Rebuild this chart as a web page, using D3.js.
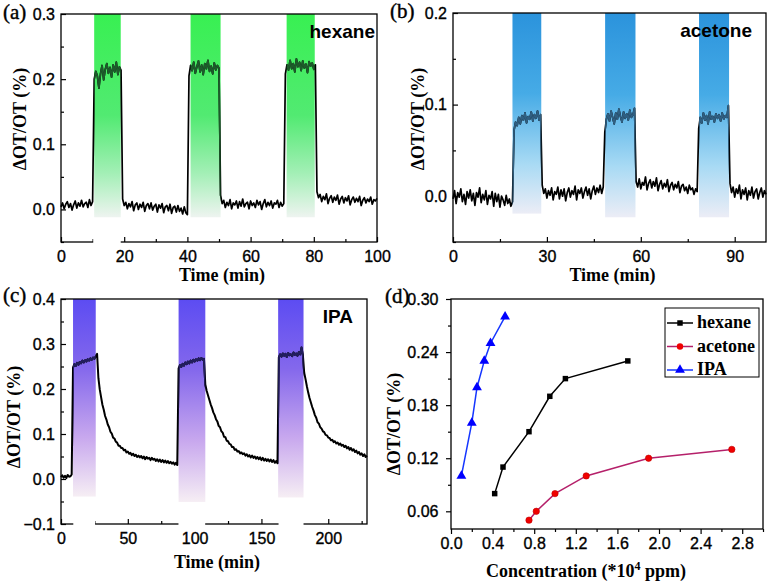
<!DOCTYPE html>
<html><head><meta charset="utf-8">
<script src="https://cdn.jsdelivr.net/npm/d3@7"></script>
<style>
body{margin:0;background:#fff}
svg{display:block}
.tick text{font-family:"Liberation Sans",Arial,sans-serif;font-size:16px;fill:#000;stroke:#000;stroke-width:0.35px}
.tick line{stroke:#000;stroke-width:1.2}
</style></head><body>
<svg id="chart" width="770" height="583"></svg>
<script>
// ---------- DATA ----------
// (a) hexane response, one sample every 0.5 min from t = 0
const hexaneStep = 0.5;
const hexaneSignal = [
 .004,.010,.001,.008,.012,.003,.009,-.001,.007,.013,.002,.010,.005,.014,.004,.009,.011,.003,.015,.006,.012,
 .200,.212,.205,.186,.208,.221,.199,.215,.224,.209,.218,.203,.222,.211,.226,.207,.219,.214,
 .016,.006,.011,.001,.009,.004,.012,-.002,.007,.010,.000,.008,.003,.011,-.003,.006,.009,.001,.010,-.001,.005,.008,-.004,.007,.002,.009,-.005,.004,.006,-.002,.008,-.006,.003,.005,-.004,.006,-.003,.002,-.007,.004,-.005,-.008,
 .205,.221,.213,.226,.209,.219,.228,.211,.222,.207,.224,.216,.229,.212,.220,.208,.225,.214,.221,.217,
 .022,.009,.014,.003,.011,.006,.015,.001,.010,.007,.013,.002,.012,.005,.016,.004,.009,.011,.001,.013,.006,.010,.003,.014,.007,.012,.000,.009,.015,.004,.011,.006,.013,.002,.010,.008,.014,.003,.011,.005,.009,
 .208,.222,.214,.229,.216,.224,.211,.231,.219,.226,.213,.228,.217,.223,.210,.227,.220,.225,.215,.222,
 .027,.018,.023,.012,.020,.015,.024,.009,.017,.021,.011,.019,.014,.022,.008,.016,.020,.010,.018,.013,.021,.007,.015,.019,.011,.017,.012,.020,.006,.014,.018,.010,.016,.012,.019,.008,.015,.013,.017
];
const hexaneBands = [[10.5, 18.9], [41.0, 50.5], [71.4, 80.3]];
const hexaneBandLows = [-0.012, -0.012, -0.012];
const hexaneAxisGaps = [[10.2, 18.9]];

// (b) acetone response, one sample every 0.5 min from t = 0
const acetoneStep = 0.5;
const acetoneSignal = [
 -.003,.006,-.008,.004,-.001,.008,-.006,.002,-.009,.005,-.002,.007,-.005,.003,-.010,.004,-.001,.009,-.007,.002,-.004,.006,-.009,.001,-.003,.005,-.011,.003,-.006,.002,-.012,.000,-.004,-.010,.001,-.008,-.003,-.011,-.006,
 .072,.081,.077,.086,.079,.088,.083,.091,.080,.087,.084,.092,.082,.089,.085,.093,.083,.089,
 .012,.003,.008,-.002,.006,.001,.009,-.004,.005,.002,.010,-.003,.007,.000,.008,-.005,.004,.009,-.001,.006,.002,.011,-.004,.007,.003,.009,-.002,.005,.010,.001,.008,-.003,.006,.011,.002,.009,.004,.012,.003,.010,
 .070,.084,.090,.082,.093,.086,.079,.091,.084,.095,.087,.081,.092,.085,.090,.083,.094,.086,.089,.096,
 .016,.010,.019,.008,.015,.012,.021,.007,.014,.018,.009,.016,.011,.020,.006,.013,.017,.008,.014,.010,.018,.005,.012,.015,.007,.013,.009,.016,.004,.011,.013,.006,.010,.003,.012,.007,.009,.002,.008,.005,
 .074,.086,.080,.091,.083,.088,.079,.092,.084,.087,.081,.090,.085,.089,.082,.091,.084,.088,.086,.099,
 .014,.004,.010,-.001,.008,.003,.012,-.003,.007,.002,.009,-.004,.006,.001,.010,-.002,.005,.008,-.003,.004,.009,-.001,.006,.002
];
const acetoneBands = [[19.0, 28.2], [48.6, 58.3], [78.6, 88.2]];
const acetoneBandLows = [-0.019, -0.023, -0.023];
const acetoneAxisGaps = [];

// (c) IPA response, one sample every 1 min from t = 0
const ipaStep = 1;
const ipaSignal = [
 .004,.008,.003,.007,.002,.009,.005,.006,.010,
 .248,.255,.251,.258,.254,.260,.257,.263,.259,.264,.261,.266,.263,.268,.265,.270,.267,.272,
 .278,.224,.199,.182,.165,.154,.140,.132,.121,.115,.105,.101,.092,.090,.083,.081,.074,.074,.069,.069,
 .064,.065,.059,.061,.056,.058,.053,.056,.051,.054,.049,.052,.048,.051,.046,.050,.044,.049,.045,.047,
 .042,.047,.043,.045,.040,.044,.039,.043,.038,.042,.037,.041,.036,.040,.035,.038,.034,.037,.032,.036,.031,
 .246,.253,.249,.256,.252,.259,.255,.261,.257,.263,.259,.265,.261,.266,.263,.268,.264,.269,.265,.267,
 .210,.196,.186,.176,.166,.158,.148,.142,.133,.128,.118,.115,.106,.103,.094,.093,.085,.084,.078,.077,
 .071,.071,.065,.066,.061,.062,.057,.059,.055,.057,.052,.055,.050,.053,.048,.052,.047,.050,.045,.049,
 .044,.048,.042,.047,.041,.045,.040,.044,.039,.043,.038,.042,.036,.040,.035,
 .270,.277,.272,.279,.274,.278,.271,.280,.275,.277,.273,.281,.276,.279,.274,.282,.277,.292,.276,
 .236,.222,.206,.192,.180,.170,.160,.152,.142,.136,.126,.123,.115,.112,.106,.104,.098,.097,.092,.091,
 .086,.087,.082,.084,.079,.081,.076,.079,.074,.076,.071,.074,.068,.071,.065,.069,.063,.066,.060,.063,
 .057,.060,.054,.057,.051,.055,.049,.052
];
const ipaBands = [[9.0, 26.0], [88.0, 108.0], [162.5, 181.5]];
const ipaBandLows = [-0.039, -0.051, -0.041];
const ipaAxisGaps = [[9.2, 25.5], [87.9, 107.9], [162.8, 181.5]];

// (d) response vs concentration (*10^4 ppm)
const concHexane  = [0.42, 0.50, 0.75, 0.95, 1.10, 1.70];
const respHexane  = [0.080, 0.110, 0.150, 0.190, 0.210, 0.230];
const concAcetone = [0.75, 0.82, 1.00, 1.30, 1.90, 2.70];
const respAcetone = [0.050, 0.060, 0.080, 0.100, 0.120, 0.130];
const concIPA     = [0.10, 0.20, 0.25, 0.32, 0.38, 0.52];
const respIPA     = [0.100, 0.160, 0.200, 0.230, 0.250, 0.280];
const seriesNames = ["hexane", "acetone", "IPA"];

// tick values
const ticksA_x = [0, 20, 40, 60, 80, 100], minorA_x = [10, 30, 50, 70, 90];
const ticksA_y = [0, 0.1, 0.2, 0.3], minorA_y = [-0.05, 0.05, 0.15, 0.25];
const ticksB_x = [0, 30, 60, 90], minorB_x = [15, 45, 75];
const ticksB_y = [0, 0.1, 0.2], minorB_y = [-0.05, 0.05, 0.15];
const ticksC_x = [0, 50, 100, 150, 200], minorC_x = [25, 75, 125, 175, 225];
const ticksC_y = [-0.1, 0, 0.1, 0.2, 0.3, 0.4], minorC_y = [-0.05, 0.05, 0.15, 0.25, 0.35];
const ticksD_x = [0, 0.4, 0.8, 1.2, 1.6, 2.0, 2.4, 2.8], minorD_x = [0.2, 0.6, 1.0, 1.4, 1.8, 2.2, 2.6, 3.0];
const ticksD_y = [0.06, 0.12, 0.18, 0.24, 0.30], minorD_y = [0.09, 0.15, 0.21, 0.27];

// ---------- DRAWING ----------
const svg = d3.select("#chart");
const defs = svg.append("defs");
const SERIF = '"Liberation Serif","Times New Roman",serif';
const SANS = '"Liberation Sans",Arial,sans-serif';

function addGradient(id, stops) {
  const g = defs.append("linearGradient").attr("id", id)
    .attr("x1", 0).attr("y1", 0).attr("x2", 0).attr("y2", 1);
  stops.forEach(s => g.append("stop").attr("offset", s[0]).attr("stop-color", s[1]));
}

function axes(g, x, y, p, inward) {
  const s = inward ? -1 : 1;
  const bx = g.append("g").attr("transform", `translate(0,${p.bottom})`)
    .call(d3.axisBottom(x).tickValues(p.xTicks).tickSize(5 * s).tickSizeOuter(0)
      .tickPadding(inward ? 8.5 : 3.5).tickFormat(p.xFmt));
  bx.select(".domain").remove();
  const bxm = g.append("g").attr("transform", `translate(0,${p.bottom})`)
    .call(d3.axisBottom(x).tickValues(p.xMinor).tickSize(3 * s).tickSizeOuter(0).tickFormat(""));
  bxm.select(".domain").remove();
  const ly = g.append("g").attr("transform", `translate(${p.left},0)`)
    .call(d3.axisLeft(y).tickValues(p.yTicks).tickSize(5 * s).tickSizeOuter(0)
      .tickPadding(inward ? 6 : 7.5).tickFormat(p.yFmt));
  ly.select(".domain").remove();
  const lym = g.append("g").attr("transform", `translate(${p.left},0)`)
    .call(d3.axisLeft(y).tickValues(p.yMinor).tickSize(3 * s).tickSizeOuter(0).tickFormat(""));
  lym.select(".domain").remove();
}

function frame(g, p) {
  g.append("rect").attr("x", p.left).attr("y", p.top)
    .attr("width", p.right - p.left).attr("height", p.bottom - p.top)
    .attr("fill", "none").attr("stroke", "#000").attr("stroke-width", 1.3);
}

function titles(g, p) {
  g.append("text").attr("x", p.letterX).attr("y", p.letterY).text(p.letter)
    .attr("font-family", SERIF).attr("font-size", 21).attr("stroke", "#000").attr("stroke-width", 0.4);
  g.append("text").attr("transform", `translate(${p.yTitleX},${p.yTitleY}) rotate(-90)`)
    .attr("text-anchor", "middle").attr("font-family", SERIF).attr("font-weight", "bold")
    .attr("font-size", 18).text("ΔOT/OT (%)");
}

function drawTimePanel(p) {
  const x = d3.scaleLinear().domain(p.xDomain).range([p.left, p.right]);
  const y = d3.scaleLinear().domain(p.yDomain).range([p.bottom, p.top]);
  const g = svg.append("g");
  addGradient(p.id + "-grad", p.stops);
  const bandData = p.bands.map((b, i) => ({ t0: b[0], t1: b[1], lo: p.bandLows[i] }));
  g.selectAll("rect.band").data(bandData).join("rect").attr("class", "band")
    .attr("x", d => x(d.t0)).attr("width", d => x(d.t1) - x(d.t0))
    .attr("y", p.top).attr("height", d => y(d.lo) - p.top)
    .attr("fill", `url(#${p.id}-grad)`);
  const pts = p.signal.map((v, i) => [i * p.step, v]);
  const line = d3.line().x(d => x(d[0])).y(d => y(d[1]));
  g.append("path").attr("d", line(pts)).attr("fill", "none").attr("stroke", "#000")
    .attr("stroke-width", p.lw).attr("stroke-linejoin", "round");
  const clip = defs.append("clipPath").attr("id", p.id + "-clip");
  clip.selectAll("rect").data(bandData).join("rect")
    .attr("x", d => x(d.t0)).attr("width", d => x(d.t1) - x(d.t0))
    .attr("y", p.top).attr("height", p.bottom - p.top);
  g.append("path").attr("d", line(pts)).attr("fill", "none").attr("stroke", p.tint)
    .attr("stroke-width", p.lw).attr("stroke-linejoin", "round")
    .attr("clip-path", `url(#${p.id}-clip)`);
  frame(g, p);
  axes(g, x, y, p, true);
  g.selectAll("rect.gap").data(p.gaps).join("rect").attr("class", "gap")
    .attr("x", d => x(d[0])).attr("width", d => x(d[1]) - x(d[0]))
    .attr("y", p.bottom - 6).attr("height", 9).attr("fill", "#fff");
  g.append("text").attr("x", p.nameX).attr("y", p.nameY).attr("text-anchor", "end")
    .attr("font-family", SANS).attr("font-weight", "bold").attr("font-size", 19).text(p.name);
  g.append("text").attr("x", (p.left + p.right) / 2 + 3).attr("y", p.xTitleY)
    .attr("text-anchor", "middle").attr("font-family", SERIF).attr("font-weight", "bold")
    .attr("font-size", 18).text("Time (min)");
  titles(g, p);
}

const f1 = d3.format(".1f"), fInt = d3.format("d");

drawTimePanel({
  id: "a", left: 61, right: 377, top: 14, bottom: 242, xDomain: [0, 100], yDomain: [-0.05, 0.3],
  xTicks: ticksA_x, xMinor: minorA_x, yTicks: ticksA_y, yMinor: minorA_y, xFmt: fInt, yFmt: f1,
  signal: hexaneSignal, step: hexaneStep, bands: hexaneBands, bandLows: hexaneBandLows, gaps: hexaneAxisGaps,
  stops: [[0, "#38f052"], [0.5, "#52ea72"], [0.78, "#a2efb5"], [1, "#eef4f0"]], tint: "#1d5b2b", lw: 1.7,
  name: "hexane", nameX: 375, nameY: 38, xTitleY: 281,
  letter: "(a)", letterX: 3, letterY: 19, yTitleX: 26, yTitleY: 119
});
drawTimePanel({
  id: "b", left: 453, right: 766, top: 13, bottom: 242, xDomain: [0, 100], yDomain: [-0.05, 0.2],
  xTicks: ticksB_x, xMinor: minorB_x, yTicks: ticksB_y, yMinor: minorB_y, xFmt: fInt, yFmt: f1,
  signal: acetoneSignal, step: acetoneStep, bands: acetoneBands, bandLows: acetoneBandLows, gaps: acetoneAxisGaps,
  stops: [[0, "#2b93dc"], [0.4, "#46abe6"], [0.75, "#a8daf4"], [1, "#ecedf6"]], tint: "#2f5f82", lw: 1.7,
  name: "acetone", nameX: 752, nameY: 37, xTitleY: 281,
  letter: "(b)", letterX: 390, letterY: 18, yTitleX: 424, yTitleY: 119
});
drawTimePanel({
  id: "c", left: 61, right: 367, top: 299, bottom: 524, xDomain: [0, 229], yDomain: [-0.1, 0.4],
  xTicks: ticksC_x, xMinor: minorC_x, yTicks: ticksC_y, yMinor: minorC_y, xFmt: fInt, yFmt: f1,
  signal: ipaSignal, step: ipaStep, bands: ipaBands, bandLows: ipaBandLows, gaps: ipaAxisGaps,
  stops: [[0, "#5c4cf2"], [0.35, "#8468ec"], [0.7, "#c8a8ee"], [1, "#f6eef4"]], tint: "#221e5e", lw: 2,
  name: "IPA", nameX: 353, nameY: 323, xTitleY: 568,
  letter: "(c)", letterX: 3, letterY: 302, yTitleX: 20, yTitleY: 417
});

// ---------- panel (d) ----------
(function () {
  const p = {
    left: 451, right: 763, top: 299, bottom: 529,
    xTicks: ticksD_x, xMinor: minorD_x, yTicks: ticksD_y, yMinor: minorD_y,
    xFmt: d3.format(".1f"), yFmt: d3.format(".2f"),
    letter: "(d)", letterX: 385, letterY: 303, yTitleX: 400, yTitleY: 424
  };
  const x = d3.scaleLinear().domain([0, 3.0]).range([p.left, p.right]);
  const y = d3.scaleLinear().domain([0.04, 0.30]).range([p.bottom, p.top]);
  const g = svg.append("g");
  const series = [
    { name: seriesNames[0], xs: concHexane, ys: respHexane, line: "#000", fill: "#000", sym: d3.symbolSquare, size: 30 },
    { name: seriesNames[1], xs: concAcetone, ys: respAcetone, line: "#b5206a", fill: "#f00000", sym: d3.symbolCircle, size: 32 },
    { name: seriesNames[2], xs: concIPA, ys: respIPA, line: "#1536ff", fill: "#0000ff", sym: d3.symbolTriangle, size: 42 }
  ];
  const line = d3.line().x(d => x(d[0])).y(d => y(d[1]));
  series.forEach(s => {
    const pts = s.xs.map((v, i) => [v, s.ys[i]]);
    g.append("path").attr("d", line(pts)).attr("fill", "none").attr("stroke", s.line).attr("stroke-width", 1.5);
    g.selectAll(null).data(pts).join("path")
      .attr("transform", d => `translate(${x(d[0])},${y(d[1])})`)
      .attr("d", d3.symbol().type(s.sym).size(s.size)).attr("fill", s.fill)
      .attr("stroke", s.fill === "#f00000" ? "#c00000" : "none").attr("stroke-width", 0.6);
  });
  frame(g, p);
  axes(g, x, y, p, false);
  // legend
  const lg = g.append("g");
  lg.append("rect").attr("x", 665).attr("y", 308).attr("width", 94).attr("height", 69)
    .attr("fill", "#fff").attr("stroke", "#000").attr("stroke-width", 1);
  series.forEach((s, i) => {
    const yy = 323 + i * 23.5;
    lg.append("line").attr("x1", 667).attr("x2", 693).attr("y1", yy).attr("y2", yy)
      .attr("stroke", s.line).attr("stroke-width", 1.5);
    lg.append("path").attr("transform", `translate(680,${yy})`)
      .attr("d", d3.symbol().type(s.sym).size(s.size)).attr("fill", s.fill);
    lg.append("text").attr("x", 697).attr("y", yy + 5).text(s.name)
      .attr("font-family", SERIF).attr("font-weight", "bold").attr("font-size", 18);
  });
  const xt = g.append("text").attr("x", 586).attr("y", 577).attr("text-anchor", "middle")
    .attr("font-family", SERIF).attr("font-weight", "bold").attr("font-size", 18);
  xt.append("tspan").text("Concentration (*10");
  xt.append("tspan").attr("dy", -7).attr("font-size", 12).text("4");
  xt.append("tspan").attr("dy", 7).text(" ppm)");
  titles(g, p);
})();
</script>
</body></html>
